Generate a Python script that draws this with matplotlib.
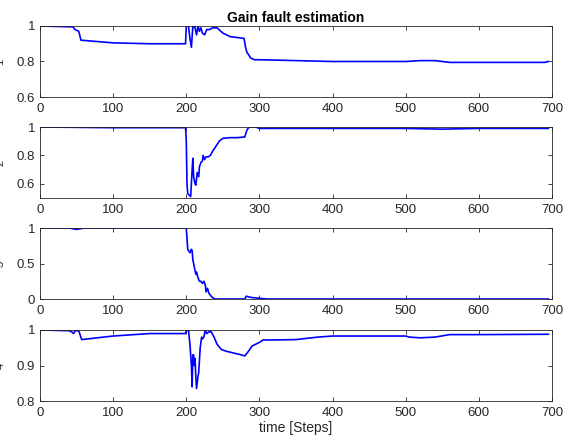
import numpy as np
from matplotlib import pyplot as plt

# gain estimates as (step, value) points
t1 = [0, 45, 48, 53, 56, 100, 150, 199, 200, 203, 205, 207, 209, 212, 214, 216, 218, 220, 222,
      225, 228, 232, 236, 242, 250, 260, 270, 279, 281, 283, 285, 288, 293, 300, 350, 400, 500,
      520, 540, 560, 600, 690, 695]
g1 = [1.0, 0.995, 0.98, 0.97, 0.92, 0.905, 0.9, 0.9, 1.0, 1.0, 0.93, 0.88, 1.0, 0.99, 0.95, 1.0,
      0.97, 0.99, 0.96, 0.95, 0.98, 0.98, 0.99, 0.99, 0.96, 0.94, 0.935, 0.93, 0.88, 0.85, 0.84,
      0.82, 0.81, 0.81, 0.805, 0.8, 0.8, 0.805, 0.805, 0.795, 0.795, 0.795, 0.8]

t2 = [0, 100, 199, 200, 201, 202, 204, 206, 208, 209, 210, 212, 213, 215, 217, 218, 220, 222,
      223, 225, 227, 230, 233, 236, 240, 245, 250, 260, 270, 280, 283, 286, 295, 300, 400, 500,
      550, 600, 695]
g2 = [1.0, 0.995, 0.995, 0.9, 0.6, 0.53, 0.52, 0.51, 0.7, 0.78, 0.65, 0.6, 0.59, 0.68, 0.65,
      0.72, 0.75, 0.76, 0.8, 0.77, 0.79, 0.79, 0.8, 0.83, 0.86, 0.9, 0.92, 0.925, 0.925, 0.93,
      0.98, 1.0, 1.0, 0.99, 0.99, 0.99, 0.985, 0.99, 0.99]

t3 = [0, 40, 45, 50, 55, 60, 199, 200, 202, 205, 207, 208, 209, 211, 213, 214, 216, 218, 220,
      222, 224, 226, 227, 229, 231, 234, 237, 240, 280, 282, 285, 290, 300, 310, 695]
g3 = [1.0, 1.0, 0.99, 0.98, 0.99, 1.0, 1.0, 1.0, 0.7, 0.65, 0.7, 0.68, 0.55, 0.45, 0.35, 0.38,
      0.3, 0.25, 0.25, 0.22, 0.25, 0.2, 0.1, 0.15, 0.08, 0.04, 0.01, 0.0, 0.0, 0.04, 0.03, 0.02,
      0.01, 0.0, 0.0]

t4 = [0, 40, 43, 46, 48, 53, 55, 57, 100, 150, 199, 200, 203, 205, 207, 208, 209, 210, 211, 212,
      213, 214, 216, 217, 219, 221, 222, 224, 226, 228, 231, 234, 238, 242, 248, 255, 265, 275,
      280, 285, 290, 295, 300, 305, 320, 350, 380, 400, 450, 500, 505, 520, 540, 560, 600, 695]
g4 = [1.0, 0.998, 0.995, 0.99, 0.998, 0.998, 0.985, 0.973, 0.983, 0.99, 0.99, 0.998, 1.0, 0.96,
      0.9, 0.84, 0.93, 0.93, 0.9, 0.92, 0.87, 0.835, 0.87, 0.88, 0.95, 0.98, 0.975, 0.98, 1.0,
      0.99, 0.995, 0.995, 0.98, 0.96, 0.945, 0.94, 0.935, 0.93, 0.927, 0.94, 0.955, 0.96, 0.965,
      0.972, 0.972, 0.973, 0.98, 0.983, 0.983, 0.983, 0.98, 0.978, 0.98, 0.987, 0.987, 0.988]

ylims = [(0.6, 1), (0.5, 1), (0, 1), (0.8, 1)]
yticks = [[0.6, 0.8, 1], [0.6, 0.8, 1], [0, 0.5, 1], [0.8, 0.9, 1]]
ytick_labels = [["0.6", "0.8", "1"], ["0.6", "0.8", "1"], ["0", "0.5", "1"], ["0.8", "0.9", "1"]]
ylabels = ["1", "2", "3", "4"]
xticks = [0, 100, 200, 300, 400, 500, 600, 700]

plt.rcParams['font.family'] = ['Liberation Sans', 'DejaVu Sans']

W, H = 566, 444
fig = plt.figure(figsize=(W / 100, H / 100), dpi=100)

# axes boxes in pixels: (top, bottom)
boxes = [(26, 97), (127, 198), (228, 299), (330, 401)]
left, right = 40, 552
grey = (0.15, 0.15, 0.15)

series = [(t1, g1), (t2, g2), (t3, g3), (t4, g4)]
for i, ((t, g), (top, bot)) in enumerate(zip(series, boxes)):
    ax = fig.add_axes([left / W, 1 - bot / H, (right - left) / W, (bot - top) / H])
    ax.plot(t, g, color=(0, 0, 1), lw=1.2)
    ax.set_xlim(0, 700)
    ax.set_ylim(*ylims[i])
    ax.set_xticks(xticks)
    ax.set_yticks(yticks[i])
    ax.set_yticklabels(ytick_labels[i])
    ax.tick_params(direction='in', length=3, width=0.6, colors=grey, labelsize=9.5,
                   top=True, right=True)
    ax.tick_params(axis='x', pad=4)
    for sp in ax.spines.values():
        sp.set_color(grey)
        sp.set_linewidth(0.6)
    # labels are mostly cut off by the figure edge in the original
    fig.text(0.5 / W, 1 - (top + bot) / 2 / H, ylabels[i], rotation=90,
             ha='center', va='center', fontsize=8, color=grey)
    if i == 0:
        ax.set_title("Gain fault estimation", fontsize=10, fontweight='bold', pad=3)
    if i == 3:
        ax.set_xlabel("time [Steps]", fontsize=10, color=grey, labelpad=2)

fig.savefig("out.png", dpi=100)
